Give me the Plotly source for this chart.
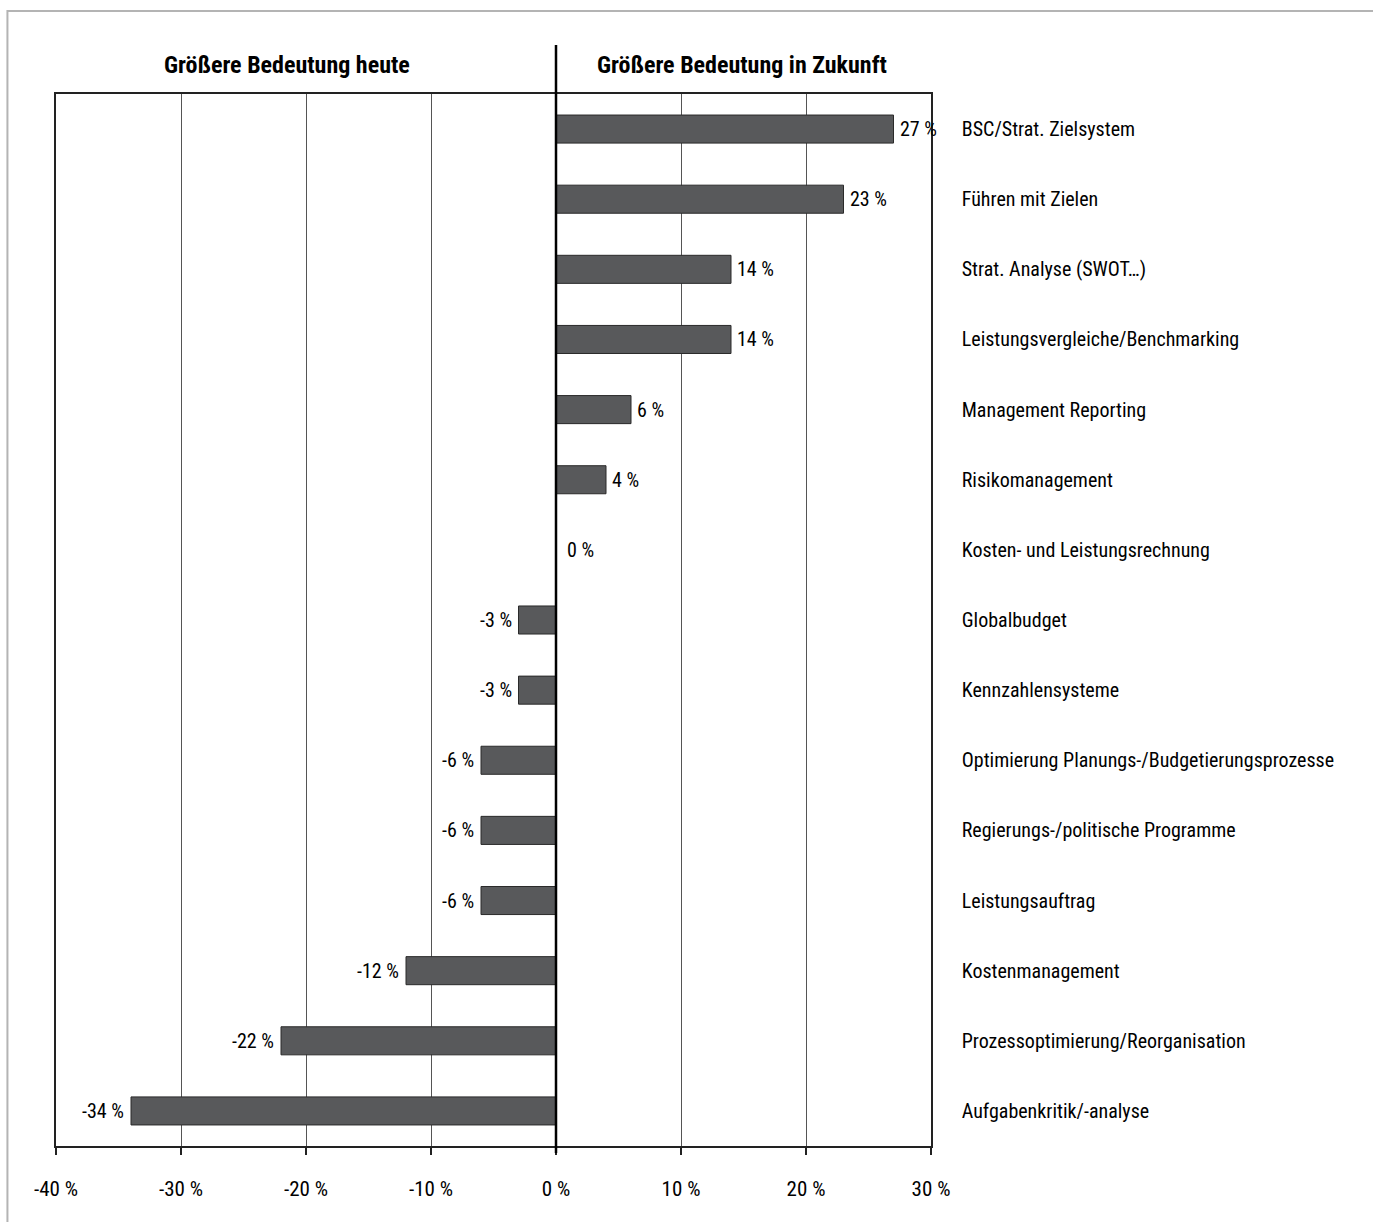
import plotly.graph_objects as go

# Instruments, top to bottom
categories = [
    "BSC/Strat. Zielsystem",
    "Führen mit Zielen",
    "Strat. Analyse (SWOT…)",
    "Leistungsvergleiche/Benchmarking",
    "Management Reporting",
    "Risikomanagement",
    "Kosten- und Leistungsrechnung",
    "Globalbudget",
    "Kennzahlensysteme",
    "Optimierung Planungs-/Budgetierungsprozesse",
    "Regierungs-/politische Programme",
    "Leistungsauftrag",
    "Kostenmanagement",
    "Prozessoptimierung/Reorganisation",
    "Aufgabenkritik/-analyse",
]
# Net difference in percentage points (future minus today)
values = [27, 23, 14, 14, 6, 4, 0, -3, -3, -6, -6, -6, -12, -22, -34]

x_ticks = [-40, -30, -20, -10, 0, 10, 20, 30]
x_tick_text = ["-40 %", "-30 %", "-20 %", "-10 %", "0 %", "10 %", "20 %", "30 %"]

header_left = "Größere Bedeutung heute"
header_right = "Größere Bedeutung in Zukunft"

FONT = "Liberation Sans Narrow, Arial Narrow, Roboto Condensed, Liberation Sans, sans-serif"

fig = go.Figure()
fig.add_trace(go.Bar(
    x=values,
    y=categories,
    orientation="h",
    marker=dict(color="#58595b", line=dict(color="#2a2a2a", width=1)),
    hoverinfo="x+y",
    showlegend=False,
))

# value labels beside each bar
for cat, v in zip(categories, values):
    if v > 0:
        anchor, shift = "left", 4
    elif v == 0:
        anchor, shift = "left", 9
    else:
        anchor, shift = "right", -5
    fig.add_annotation(
        x=v, y=cat, xref="x", yref="y",
        text=f"{v} %", showarrow=False,
        xanchor=anchor, xshift=shift,
        font=dict(family=FONT, size=20, color="#000"),
    )

# column headers
fig.add_annotation(x=-21.5, y=1.0276, xref="x", yref="paper", text=f"<b>{header_left}</b>",
                   showarrow=False, xanchor="center", yanchor="middle",
                   font=dict(family=FONT, size=24, color="#000"))
fig.add_annotation(x=14.9, y=1.0276, xref="x", yref="paper", text=f"<b>{header_right}</b>",
                   showarrow=False, xanchor="center", yanchor="middle",
                   font=dict(family=FONT, size=24, color="#000"))

# zero divider, extended above the plot into the header band
fig.add_shape(type="line", xref="x", yref="paper", x0=0, x1=0,
              y0=-0.0067, y1=1.0466, line=dict(color="#000", width=2.5))

# light outer frame
fig.add_shape(type="rect", xref="paper", yref="paper",
              x0=-0.0555, x1=1.52, y0=-0.09, y1=1.0788,
              line=dict(color="#b4b4b4", width=2), fillcolor="rgba(0,0,0,0)", layer="below")

fig.update_layout(
    width=1373, height=1222,
    margin=dict(l=56, r=442, t=94, b=76),
    paper_bgcolor="white", plot_bgcolor="white",
    bargap=0.6,
    font=dict(family=FONT, size=20, color="#000"),
    xaxis=dict(
        range=[-40, 30],
        tickvals=x_ticks, ticktext=x_tick_text,
        showgrid=True, gridcolor="#555", gridwidth=1,
        zeroline=False,
        showline=True, linecolor="#222", linewidth=1.5, mirror=True,
        ticks="outside", ticklen=7, tickcolor="#222", tickwidth=1.5,
        ticklabelstandoff=16,
        tickfont=dict(family=FONT, size=21, color="#000"),
        fixedrange=True,
    ),
    yaxis=dict(
        categoryorder="array", categoryarray=categories,
        autorange="reversed",
        side="right",
        showgrid=False, zeroline=False,
        showline=True, linecolor="#222", linewidth=1.5, mirror=True,
        ticks="", ticklabelstandoff=25,
        tickfont=dict(family=FONT, size=20, color="#000"),
        fixedrange=True,
    ),
)

fig.write_html("out.html")
